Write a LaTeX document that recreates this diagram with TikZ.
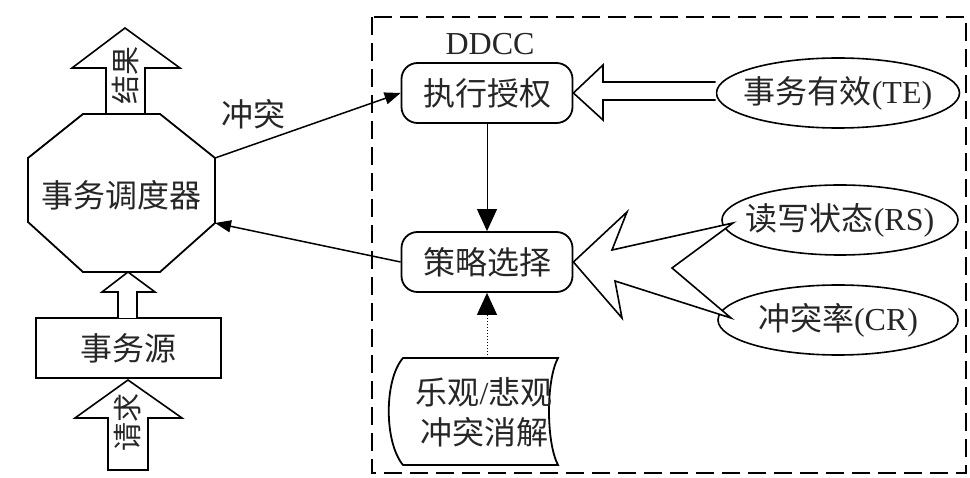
\documentclass[tikz,border=0pt]{standalone}
\usepackage{fontspec}
\setmainfont{Liberation Serif}
\newfontfamily\cjk{Noto Sans CJK SC}
\usetikzlibrary{arrows.meta,calc,shapes.geometric}
\begin{document}
\begin{tikzpicture}[x=1pt,y=-1pt,
  txt/.style={font=\fontsize{32}{40}\selectfont, text=black!85, inner sep=0pt},
  rtxt/.style={font=\fontsize{29}{32}\selectfont, text=black!85, inner sep=0pt, rotate=90},
  rbox/.style={txt, draw, line width=1.8pt, rounded corners=16pt, minimum width=171pt, minimum height=60pt},
  sbox/.style={txt, draw, line width=1.8pt, minimum width=185pt, minimum height=60pt},
  ell/.style={txt, draw, ellipse, line width=1.6pt, minimum height=70pt},
  outline/.style={draw, line width=1.8pt, line join=miter, fill=white},
  hollow/.style={draw, line width=1.6pt, line join=miter, fill=white},
  conn/.style={draw, line width=1.5pt, -{Triangle[length=16pt,width=12pt]}},
  bigconn/.style={draw, line width=1pt, -{Triangle[length=22pt,width=20pt]}},
  frame/.style={draw, line width=1.6pt, dash pattern=on 18pt off 8pt}
]
\useasboundingbox (0,0) rectangle (970,478);
\fill[white] (0,0) rectangle (970,478);

% dashed DDCC frame
\draw[frame] (372,17) rectangle (966,473);
\node[txt] (ddcc) at (490,44) {DDCC};

% scheduler octagon
\coordinate (o1) at (83,114);
\coordinate (o2) at (160,114);
\coordinate (o3) at (215,158);
\coordinate (o4) at (215,223);
\coordinate (o5) at (160,272);
\coordinate (o6) at (83,272);
\coordinate (o7) at (28,222);
\coordinate (o8) at (28,158);
\draw[outline] (o1) -- (o2) -- (o3) -- (o4) -- (o5) -- (o6) -- (o7) -- (o8) -- cycle;
\node[txt, minimum width=187pt, minimum height=158pt] (sched) at (121.5,195) {\cjk 事务调度器};

% result arrow (up, hollow)
\draw[hollow] (106,114) -- (106,68) -- (72,68) -- (125,28) -- (180,68) -- (145,68) -- (145,114) -- cycle;
\node[rtxt] (result) at (125,76) {\cjk 结果};

% transaction source
\node[sbox] (src) at (128.5,348) {\cjk 事务源};

% hollow arrow source -> scheduler
\draw[hollow] (118,318) -- (118,292) -- (102,292) -- (128,272) -- (155,292) -- (137,292) -- (137,318);

% request arrow (up, hollow)
\draw[hollow] (108,470) -- (108,418) -- (75,418) -- (128,380) -- (182,418) -- (148,418) -- (148,470) -- cycle;
\node[rtxt] (req) at (128,422) {\cjk 请求};

% DDCC nodes
\node[rbox] (exe) at (487,93) {\cjk 执行授权};
\node[rbox] (sel) at (487,262) {\cjk 策略选择};
\node[ell, minimum width=243pt] (te) at (838,93) {\makebox[0pt]{{\cjk 事务有效}(TE)}};
\node[ell, minimum width=236pt] (rs) at (840,220) {\makebox[0pt]{{\cjk 读写状态}(RS)}};
\node[ell, minimum width=240pt] (cr) at (838,320) {\makebox[0pt]{{\cjk 冲突率}(CR)}};

% document shape (optimistic / pessimistic)
\draw[outline] (403,358) -- (558,358) .. controls (546,380) and (546,442) .. (558,465)
  -- (403,465) .. controls (384,442) and (384,380) .. (403,358) -- cycle;
\node[txt, align=center] (doc) at (484,412) {{\cjk 乐观}/{\cjk 悲观}\\\cjk 冲突消解};

% hollow arrow TE -> exe
\draw[hollow] (te.west |- 0,82) -- (603,82) -- (603,65) -- (exe.east) -- (603,120) -- (603,100) -- (te.west |- 0,100);

% forked hollow arrow RS, CR -> sel
\coordinate (frs) at (733,223);
\coordinate (fcr) at (731,318);
\draw[hollow] (frs) -- (612,250) -- (627,212) -- (sel.east) -- (622,318) -- (615,281) -- (fcr) -- (672,268) -- cycle;

% connectors
\draw[conn] (o3) -- (exe.west);
\node[txt] (conflict) at (253,114) {\cjk 冲突};
\draw[conn] (sel.west) -- (o4);
\draw[bigconn] (exe.south) -- (sel.north);
\draw[bigconn, dotted] (sel.south |- 0,358) -- (sel.south);
\end{tikzpicture}
\end{document}
